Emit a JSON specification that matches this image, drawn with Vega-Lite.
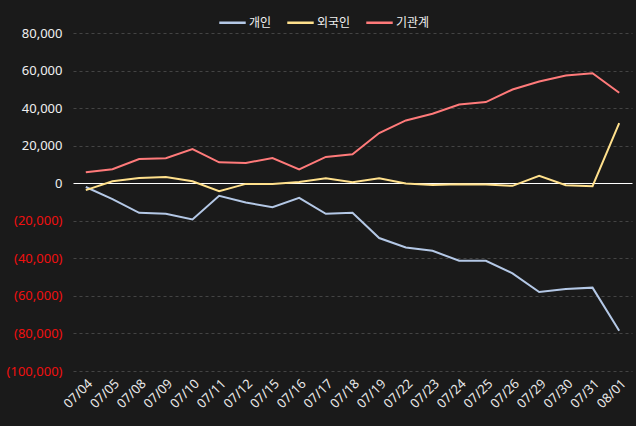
{
  "$schema": "https://vega.github.io/schema/vega-lite/v6.json",
  "width": 559,
  "height": 338,
  "autosize": "none",
  "padding": {"left": 73, "top": 33, "right": 4, "bottom": 55},
  "background": "#1a1a1a",
  "config": {
    "view": {"stroke": null},
    "font": "Noto Sans CJK KR"
  },
  "data": {"values": [
      {"date": "07/04", "type": "개인", "value": -2000},
      {"date": "07/05", "type": "개인", "value": -8500},
      {"date": "07/08", "type": "개인", "value": -15750},
      {"date": "07/09", "type": "개인", "value": -16300},
      {"date": "07/10", "type": "개인", "value": -19300},
      {"date": "07/11", "type": "개인", "value": -6700},
      {"date": "07/12", "type": "개인", "value": -10300},
      {"date": "07/15", "type": "개인", "value": -12800},
      {"date": "07/16", "type": "개인", "value": -7800},
      {"date": "07/17", "type": "개인", "value": -16300},
      {"date": "07/18", "type": "개인", "value": -15750},
      {"date": "07/19", "type": "개인", "value": -29200},
      {"date": "07/22", "type": "개인", "value": -34200},
      {"date": "07/23", "type": "개인", "value": -36000},
      {"date": "07/24", "type": "개인", "value": -41300},
      {"date": "07/25", "type": "개인", "value": -41300},
      {"date": "07/26", "type": "개인", "value": -48000},
      {"date": "07/29", "type": "개인", "value": -57900},
      {"date": "07/30", "type": "개인", "value": -56300},
      {"date": "07/31", "type": "개인", "value": -55600},
      {"date": "08/01", "type": "개인", "value": -78600},
      {"date": "07/04", "type": "외국인", "value": -3700},
      {"date": "07/05", "type": "외국인", "value": 1060},
      {"date": "07/08", "type": "외국인", "value": 2800},
      {"date": "07/09", "type": "외국인", "value": 3360},
      {"date": "07/10", "type": "외국인", "value": 1060},
      {"date": "07/11", "type": "외국인", "value": -4250},
      {"date": "07/12", "type": "외국인", "value": -350},
      {"date": "07/15", "type": "외국인", "value": -350},
      {"date": "07/16", "type": "외국인", "value": 700},
      {"date": "07/17", "type": "외국인", "value": 2650},
      {"date": "07/18", "type": "외국인", "value": 530},
      {"date": "07/19", "type": "외국인", "value": 2650},
      {"date": "07/22", "type": "외국인", "value": -200},
      {"date": "07/23", "type": "외국인", "value": -900},
      {"date": "07/24", "type": "외국인", "value": -500},
      {"date": "07/25", "type": "외국인", "value": -700},
      {"date": "07/26", "type": "외국인", "value": -1400},
      {"date": "07/29", "type": "외국인", "value": 3900},
      {"date": "07/30", "type": "외국인", "value": -1050},
      {"date": "07/31", "type": "외국인", "value": -1600},
      {"date": "08/01", "type": "외국인", "value": 32000},
      {"date": "07/04", "type": "기관계", "value": 5850},
      {"date": "07/05", "type": "기관계", "value": 7450},
      {"date": "07/08", "type": "기관계", "value": 12900},
      {"date": "07/09", "type": "기관계", "value": 13300},
      {"date": "07/10", "type": "기관계", "value": 18200},
      {"date": "07/11", "type": "기관계", "value": 11150},
      {"date": "07/12", "type": "기관계", "value": 10800},
      {"date": "07/15", "type": "기관계", "value": 13450},
      {"date": "07/16", "type": "기관계", "value": 7400},
      {"date": "07/17", "type": "기관계", "value": 14000},
      {"date": "07/18", "type": "기관계", "value": 15400},
      {"date": "07/19", "type": "기관계", "value": 26700},
      {"date": "07/22", "type": "기관계", "value": 33450},
      {"date": "07/23", "type": "기관계", "value": 37000},
      {"date": "07/24", "type": "기관계", "value": 41950},
      {"date": "07/25", "type": "기관계", "value": 43200},
      {"date": "07/26", "type": "기관계", "value": 49900},
      {"date": "07/29", "type": "기관계", "value": 54150},
      {"date": "07/30", "type": "기관계", "value": 57350},
      {"date": "07/31", "type": "기관계", "value": 58600},
      {"date": "08/01", "type": "기관계", "value": 48150}
  ]},
  "mark": {"type": "line", "strokeWidth": 2},
  "encoding": {
    "x": {
      "field": "date",
      "type": "ordinal",
      "scale": {"type": "point", "padding": 0.48},
      "axis": {
        "title": null,
        "labelAngle": -45,
        "labelColor": "#e8e8e8",
        "labelFontSize": 13,
        "labelFont": "Noto Sans",
        "labelOverlap": false,
        "ticks": false,
        "domain": false,
        "grid": false,
        "labelPadding": 6
      }
    },
    "y": {
      "field": "value",
      "type": "quantitative",
      "scale": {"domain": [-100000, 80000], "nice": false},
      "axis": {
        "title": null,
        "values": [-100000, -80000, -60000, -40000, -20000, 0, 20000, 40000, 60000, 80000],
        "labelExpr": "datum.value < 0 ? '(' + format(-datum.value, ',') + ')' : format(datum.value, ',') + '\u00a0'",
        "labelColor": {"condition": {"test": "datum.value < 0", "value": "#f01010"}, "value": "#f0f0f0"},
        "labelFontSize": 13,
        "labelFont": "Noto Sans",
        "labelOverlap": false,
        "labelFlush": false,
        "labelBound": false,
        "ticks": false,
        "domain": false,
        "gridColor": {"condition": {"test": "datum.value === 0", "value": "#ffffff"}, "value": "#444444"},
        "gridDash": {"condition": {"test": "datum.value === 0", "value": []}, "value": [3, 3]},
        "gridWidth": 1,
        "labelPadding": 11
      }
    },
    "color": {
      "field": "type",
      "type": "nominal",
      "scale": {"domain": ["개인", "외국인", "기관계"], "range": ["#b4c8e6", "#ffe08c", "#ff7a7a"]},
      "legend": {
        "title": null,
        "orient": "none",
        "direction": "horizontal",
        "legendX": 145,
        "legendY": -25,
        "symbolType": "stroke",
        "symbolStrokeWidth": 2.5,
        "symbolSize": 700,
        "labelColor": "#f0f0f0",
        "labelFontSize": 12,
        "columnPadding": 10,
        "labelOffset": 2
      }
    }
  }
}
